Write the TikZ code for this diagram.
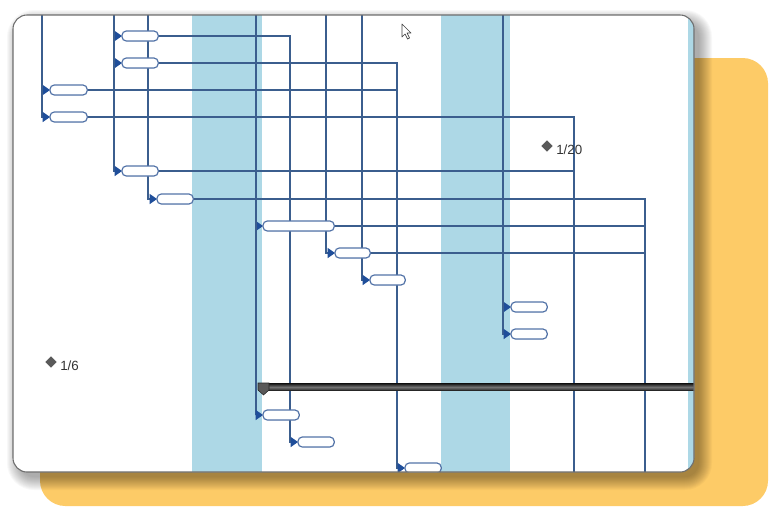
\documentclass[tikz,border=0pt]{standalone}
\usepackage{fontspec}
\setmainfont{Liberation Sans}
\usetikzlibrary{shapes.geometric,arrows.meta}

\definecolor{gold}{HTML}{FDCB67}
\definecolor{stripe}{HTML}{ADD8E6}
\definecolor{linkc}{HTML}{3B5E8E}
\definecolor{barc}{HTML}{5474A8}
\definecolor{tipc}{HTML}{1F4E9A}
\definecolor{cardline}{HTML}{6E6E6E}
\definecolor{msfill}{HTML}{5A5A5A}
\definecolor{mstext}{HTML}{333333}

\begin{document}
\begin{tikzpicture}[x=0.75pt,y=-0.75pt,
  taskbar/.style={draw=barc, fill=white, rounded corners=3.2pt, line width=0.9pt,
    minimum height=6.6pt, inner sep=0pt, anchor=west, minimum width=#1*0.75pt},
  link/.style={draw=linkc, line width=0.9pt},
  linkarrow/.style={link, -{Triangle[length=5.5pt,width=7.5pt,fill=tipc,color=tipc]}},
  milestone/.style={diamond, fill=msfill, draw=black!70, line width=0.4pt,
    minimum size=8pt, inner sep=0pt},
  mslabel/.style={anchor=west, text=mstext, font=\fontsize{10}{12}\selectfont, inner sep=0pt},
  summary/.style={anchor=west, minimum height=4.6pt, minimum width=#1*0.75pt, inner sep=0pt,
    top color=black!85, bottom color=black!80, middle color=black!55, draw=black!85, line width=0.4pt}
]
\useasboundingbox (0,0) rectangle (780,526);

% yellow backdrop
\fill[gold, rounded corners=19pt] (40,58) rectangle (768,506);

% soft shadow of the card (stacked translucent layers)
\foreach \i in {0,...,13}{
  \pgfmathsetmacro{\e}{13-1.0*\i}
  \pgfmathsetmacro{\r}{10.5+0.75*\e}
  \fill[black, opacity=0.028, rounded corners=\r pt]
    (13+7-\e,15+8-\e) rectangle (694+5+\e,472+5+\e);
}

% card
\fill[white, rounded corners=10.5pt] (13,15) rectangle (694,472);

\begin{scope}
\clip[rounded corners=10.5pt] (13,15) rectangle (694,472);

% stripes
\fill[stripe] (192,10) rectangle (262,480);
\fill[stripe] (441,10) rectangle (510,480);
\fill[stripe] (688,10) rectangle (700,480);

% task bars
\node[taskbar=35] (t1) at (122,36) {};
\node[taskbar=35] (t2) at (122,63) {};
\node[taskbar=36] (t3) at (50,90) {};
\node[taskbar=36] (t4) at (50,117) {};
\node[taskbar=35] (t5) at (122,171) {};
\node[taskbar=35] (t6) at (157,199) {};
\node[taskbar=70] (t7) at (263,226) {};
\node[taskbar=34] (t8) at (335,253) {};
\node[taskbar=34] (t9) at (370,280) {};
\node[taskbar=35] (t10) at (511,307) {};
\node[taskbar=35] (t11) at (511,334) {};
\node[taskbar=35] (t12) at (263,415) {};
\node[taskbar=35] (t13) at (298,442) {};
\node[taskbar=35] (t14) at (405,468) {};

% top sources and corners
\coordinate (s42) at (42,8);
\coordinate (s114) at (114,8);
\coordinate (s148) at (148,8);
\coordinate (s256) at (256,8);
\coordinate (s326) at (326,8);
\coordinate (s362) at (362,8);
\coordinate (s503) at (503,8);
\coordinate (k290) at (290,36);
\coordinate (k397a) at (397,63);
\coordinate (k397b) at (397,90);
\coordinate (k574a) at (574,117);
\coordinate (k574b) at (574,171);
\coordinate (e574) at (574,480);
\coordinate (k645a) at (645,199);
\coordinate (k645b) at (645,226);
\coordinate (k645c) at (645,253);
\coordinate (e645) at (645,480);

% connectors from top
\draw[linkarrow] (s42) |- (t3.west);
\draw[linkarrow] (s42) |- (t4.west);
\draw[linkarrow] (s114) |- (t1.west);
\draw[linkarrow] (s114) |- (t2.west);
\draw[linkarrow] (s114) |- (t5.west);
\draw[linkarrow] (s148) |- (t6.west);
\draw[linkarrow] (s256) |- (t7.west);
\draw[linkarrow] (s256) |- (t12.west);
\draw[linkarrow] (s326) |- (t8.west);
\draw[linkarrow] (s362) |- (t9.west);
\draw[linkarrow] (s503) |- (t10.west);
\draw[linkarrow] (s503) |- (t11.west);

% connectors from bar ends
\draw[linkarrow] (t1.east) -- (k290) |- (t13.west);
\draw[linkarrow] (t2.east) -- (k397a) |- (t14.west);
\draw[link] (t3.east) -- (k397b);
\draw[link] (t4.east) -- (k574a) -- (e574);
\draw[link] (t5.east) -- (k574b);
\draw[link] (t6.east) -- (k645a) -- (e645);
\draw[link] (t7.east) -- (k645b);
\draw[link] (t8.east) -- (k645c);

% redraw bars on top of lines
\foreach \t in {t1,t2,t3,t4,t5,t6,t7,t8,t9,t10,t11,t12,t13,t14}
  \draw[barc, line width=0.9pt, fill=white, rounded corners=3.2pt] (\t.south west) rectangle (\t.north east);

% summary bar
\node[summary=445] (sum) at (258,387) {};
\fill[black!65, draw=black!85, line width=0.4pt]
  (258,383) -- (269,383) -- (269,390) -- (263.5,395) -- (258,390) -- cycle;

% milestones
\node[milestone] (m1) at (547,146) {};
\node[mslabel] (l1) at (556,150) {1/20};
\node[milestone] (m2) at (51,362) {};
\node[mslabel] (l2) at (60,366) {1/6};

% mouse cursor
\draw[fill=white, draw=black!75, line width=0.5pt, line join=round]
  (402,24) -- (402,37) -- (405,34) -- (407.5,39) -- (409.5,38) -- (407,33) -- (411,33) -- cycle;
\end{scope}

% card border
\draw[cardline, line width=0.8pt, rounded corners=10.5pt] (13,15) rectangle (694,472);
\end{tikzpicture}
\end{document}
